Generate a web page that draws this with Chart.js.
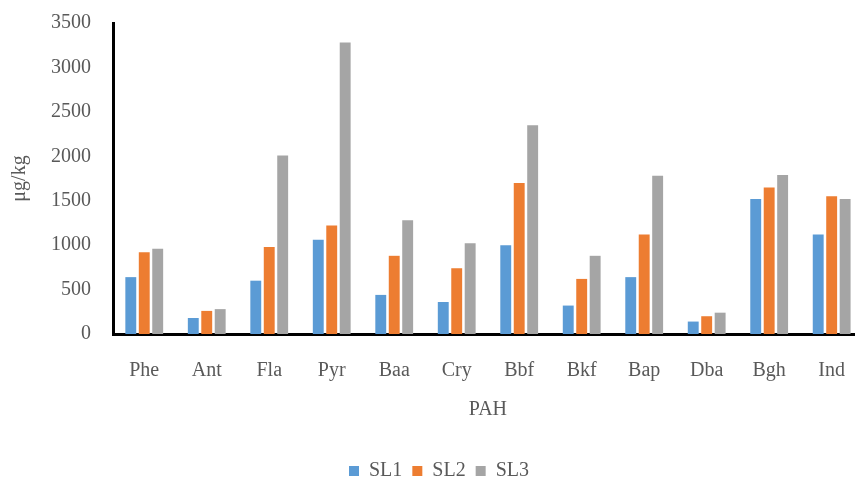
<!DOCTYPE html>
<html>
<head>
<meta charset="utf-8">
<script src="https://cdn.jsdelivr.net/npm/chart.js@4"></script>
<style>
  html, body { margin: 0; padding: 0; background: #fff; overflow: hidden; }
  #wrap { width: 870px; height: 481px; }
</style>
</head>
<body>
<div id="wrap"><canvas id="c" width="870" height="481"></canvas></div>
<script>
// PAH concentrations (µg/kg) at three sampling locations
const categories = ['Phe', 'Ant', 'Fla', 'Pyr', 'Baa', 'Cry', 'Bbf', 'Bkf', 'Bap', 'Dba', 'Bgh', 'Ind'];
const sl1 = [640, 180, 600, 1060, 440, 360, 1000, 320, 640, 140, 1520, 1120];
const sl2 = [920, 260, 980, 1220, 880, 740, 1700, 620, 1120, 200, 1650, 1550];
const sl3 = [960, 280, 2010, 3280, 1280, 1020, 2350, 880, 1780, 240, 1790, 1520];
const seriesNames = ['SL1', 'SL2', 'SL3'];
const yTicks = [0, 500, 1000, 1500, 2000, 2500, 3000, 3500];

const colors = ['#5B9BD5', '#ED7D31', '#A5A5A5'];
const serif = '"Liberation Serif", "Times New Roman", serif';
const font = { family: serif, size: 20 };
const textColor = '#595959';

Chart.defaults.font.family = serif;
Chart.defaults.font.size = 20;
Chart.defaults.color = textColor;

// Keep the legend strip a fixed height so it sits near the bottom edge
const legendHeight = {
  id: 'legendHeight',
  beforeInit(chart) {
    const fit = chart.legend.fit;
    chart.legend.fit = function () {
      fit.call(this);
      this.height = 30;
    };
  }
};

new Chart(document.getElementById('c'), {
  type: 'bar',
  data: {
    labels: categories,
    datasets: [sl1, sl2, sl3].map((d, i) => ({
      label: seriesNames[i],
      data: d,
      backgroundColor: colors[i],
      borderWidth: 0,
      barPercentage: 0.81,
      categoryPercentage: 0.646
    }))
  },
  plugins: [legendHeight],
  options: {
    responsive: false,
    animation: false,
    layout: { padding: { left: 8, right: 0, top: 1, bottom: 0 } },
    plugins: {
      legend: {
        position: 'bottom',
        labels: {
          font: font,
          color: textColor,
          boxWidth: 10,
          boxHeight: 10,
          padding: 10
        }
      },
      tooltip: { enabled: false }
    },
    scales: {
      x: {
        z: 1,
        grid: { display: false, drawTicks: false },
        border: { display: true, color: '#000', width: 3 },
        ticks: { font: font, color: textColor, padding: 25 },
        title: { display: true, text: 'PAH', font: font, color: textColor, padding: { top: 0, bottom: 29 } },
        afterFit: (s) => { s.height = 117; }
      },
      y: {
        z: 1,
        min: 0,
        max: 3500,
        afterBuildTicks: (s) => { s.ticks = yTicks.map(v => ({ value: v })); },
        grid: { display: false, drawTicks: false },
        border: { display: true, color: '#000', width: 3 },
        ticks: { font: font, color: textColor, padding: 22, callback: (v) => String(v) },
        title: { display: true, text: 'μg/kg', font: font, color: textColor, padding: { top: 0, bottom: 0 } },
        afterFit: (s) => { s.width = 105; s.paddingTop = 23; }
      }
    }
  }
});
</script>
</body>
</html>
